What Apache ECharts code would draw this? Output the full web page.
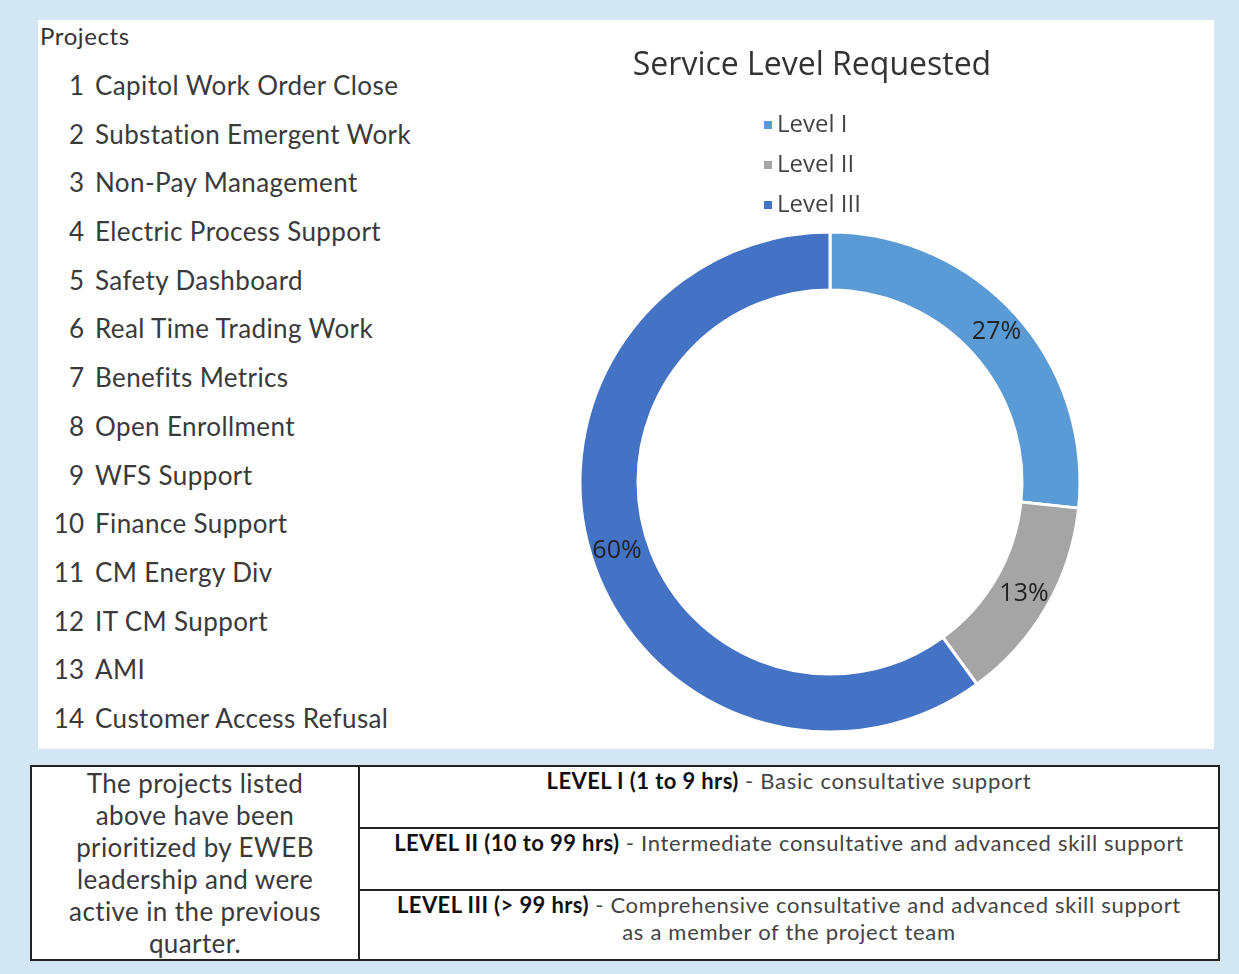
<!DOCTYPE html>
<html>
<head>
<meta charset="utf-8">
<title>Service Level Requested</title>
<script src="https://cdn.jsdelivr.net/npm/echarts@6/dist/echarts.min.js"></script>
<style>
  html, body { margin: 0; padding: 0; }
  body {
    width: 1239px; height: 974px; position: relative; overflow: hidden;
    background: #d2e7f3; font-family: Lato, "Open Sans", sans-serif;
  }
  #panel { position: absolute; left: 38px; top: 20px; width: 1176px; height: 729px; background: #fff; }
  #projects-title { position: absolute; left: 40px; top: 21px; font-size: 24px; letter-spacing: 0.6px; color: #333; }
  #projects { position: absolute; left: 40px; top: 61px; font-size: 26px; letter-spacing: 0.4px; color: #3a3a3a; }
  #projects .row { height: 48.7px; line-height: 48.7px; white-space: nowrap; }
  #projects .num { display: inline-block; width: 44px; text-align: right; margin-right: 11px; letter-spacing: 0; }
  #chart { position: absolute; left: 410px; top: 20px; width: 804px; height: 729px; }
  table.levels {
    position: absolute; left: 30px; top: 765px; width: 1190px; height: 194px;
    border-collapse: collapse; border: 2px solid #222; background: #fff;
  }
  table.levels td { border: 2px solid #222; padding: 0; }
  td.note { width: 326px; text-align: center; vertical-align: top; font-size: 26px; letter-spacing: 0.4px; line-height: 32px; color: #3a3a3a; padding-top: 1px; }
  td.lvl { text-align: center; vertical-align: top; font-size: 22px; letter-spacing: 0.7px; line-height: 27px; color: #444; padding-top: 3px; }
  td.lvl b { color: #111; letter-spacing: 0.4px; }
</style>
</head>
<body>
<div id="panel"></div>
<div id="projects-title">Projects</div>
<div id="projects"></div>
<div id="chart"></div>
<table class="levels">
  <tr style="height:62px">
    <td class="note" rowspan="3">The projects listed<br>above have been<br>prioritized by EWEB<br>leadership and were<br>active in the previous<br>quarter.</td>
    <td class="lvl" id="lvl0"></td>
  </tr>
  <tr style="height:62px"><td class="lvl" id="lvl1"></td></tr>
  <tr style="height:70px"><td class="lvl" id="lvl2"></td></tr>
</table>
<script>
// project list (left side)
const projects = [
  'Capitol Work Order Close', 'Substation Emergent Work', 'Non-Pay Management',
  'Electric Process Support', 'Safety Dashboard', 'Real Time Trading Work',
  'Benefits Metrics', 'Open Enrollment', 'WFS Support', 'Finance Support',
  'CM Energy Div', 'IT CM Support', 'AMI', 'Customer Access Refusal'
]

// donut data
const levels = ['Level I', 'Level II', 'Level III']
const levelCounts = [4, 2, 9]
const levelColors = ['#5b9bd5', '#a5a5a5', '#4472c4']

// level descriptions for the table
const levelHeads = ['LEVEL I (1 to 9 hrs)', 'LEVEL II (10 to 99 hrs)', 'LEVEL III (> 99 hrs)']
const levelTexts = [
  'Basic consultative support',
  'Intermediate consultative and advanced skill support',
  'Comprehensive consultative and advanced skill support<br>as a member of the project team'
]

const list = document.getElementById('projects')
projects.forEach((name, i) => {
  const row = document.createElement('div')
  row.className = 'row'
  row.innerHTML = '<span class="num">' + (i + 1) + '</span>' + name
  list.appendChild(row)
})

levelHeads.forEach((head, i) => {
  document.getElementById('lvl' + i).innerHTML = '<b>' + head + '</b> - ' + levelTexts[i]
})

const chart = echarts.init(document.getElementById('chart'))
chart.setOption({
  animation: false,
  color: levelColors,
  title: {
    text: 'Service Level Requested',
    left: 'center',
    top: 25,
    textStyle: { fontFamily: '"Open Sans", sans-serif', fontWeight: 'normal', fontSize: 32, color: '#333' }
  },
  legend: {
    orient: 'vertical',
    left: 347,
    top: 88,
    itemGap: 16,
    itemWidth: 10,
    itemHeight: 10,
    icon: 'rect',
    textStyle: { fontFamily: '"Open Sans", sans-serif', fontSize: 24, color: '#444', padding: [0, 0, 0, -1] },
    data: levels
  },
  series: [{
    type: 'pie',
    center: [420, 462],
    radius: [192, 250],
    startAngle: 90,
    clockwise: true,
    emphasis: { disabled: true },
    itemStyle: { borderColor: '#fff', borderWidth: 3 },
    label: {
      position: 'inside',
      formatter: p => Math.round(p.percent) + '%',
      fontFamily: '"Open Sans", sans-serif',
      fontSize: 25,
      color: '#222'
    },
    labelLine: { show: false },
    data: levels.map((name, i) => ({ name, value: levelCounts[i] }))
  }]
})
</script>
</body>
</html>
